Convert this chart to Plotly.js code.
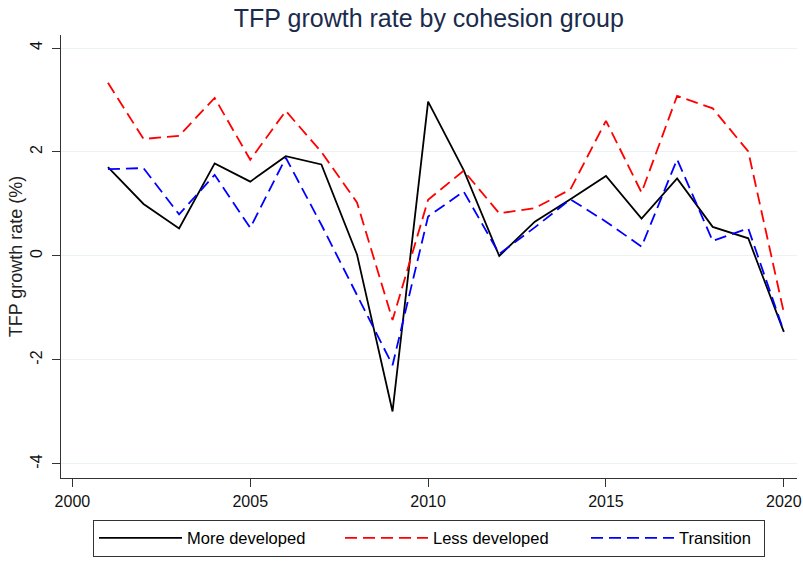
<!DOCTYPE html>
<html>
<head>
<meta charset="utf-8">
<script src="https://cdn.plot.ly/plotly-3.0.1.min.js"></script>
<style>html,body{margin:0;padding:0;background:#fff;}#chart{width:803px;height:561px;}</style>
</head>
<body>
<div id="chart"></div>
<script>
const years = [2001,2002,2003,2004,2005,2006,2007,2008,2009,2010,2011,2012,2013,2014,2015,2016,2017,2018,2019,2020];
const moreDeveloped = [1.71,1.00,0.53,1.78,1.43,1.92,1.76,0.03,-2.99,2.97,1.65,0.00,0.66,1.09,1.54,0.72,1.49,0.56,0.34,-1.46];
const lessDeveloped = [3.33,2.25,2.31,3.04,1.85,2.79,2.00,1.03,-1.23,1.08,1.64,0.82,0.92,1.28,2.60,1.22,3.08,2.84,2.01,-1.09];
const transition = [1.67,1.69,0.80,1.56,0.54,1.89,0.60,-0.76,-2.10,0.76,1.24,0.04,0.55,1.09,0.66,0.18,1.86,0.29,0.53,-1.45];
const seriesNames = ["More developed","Less developed","Transition"];
const xTicks = [2000,2005,2010,2015,2020];
const yTicks = [-4,-2,0,2,4];

const FONT = "Liberation Sans, Arial, Helvetica, sans-serif";
const traces = [
  {x: years, y: moreDeveloped, name: seriesNames[0], type: "scatter", mode: "lines", legendwidth: 148,
   line: {color: "#000000", width: 1.8}},
  {x: years, y: lessDeveloped, name: seriesNames[1], type: "scatter", mode: "lines", legendwidth: 148,
   line: {color: "#ff0000", width: 1.8, dash: "12px,6px"}},
  {x: years, y: transition, name: seriesNames[2], type: "scatter", mode: "lines", legendwidth: 80,
   line: {color: "#0000ff", width: 1.8, dash: "12px,6px"}}
];
const layout = {
  width: 803, height: 561,
  margin: {l: 61, r: 6, t: 35, b: 83, autoexpand: false},
  paper_bgcolor: "#ffffff", plot_bgcolor: "#ffffff",
  font: {family: FONT, color: "#000000", size: 16},
  title: {text: "TFP growth rate by cohesion group", font: {family: FONT, size: 25, color: "#1a2b4c"},
          x: 0.534, xanchor: "center", y: 0.967, yanchor: "middle"},
  xaxis: {range: [1999.68, 2020.37], tickvals: xTicks, ticktext: xTicks.map(String),
          ticks: "outside", ticklen: 8, tickcolor: "#333", showgrid: false, zeroline: false,
          showline: true, linecolor: "#333", linewidth: 1, tickfont: {size: 16, color: "#111"},
          ticklabelstandoff: 1},
  yaxis: {range: [-4.27, 4.25], tickvals: yTicks, ticktext: yTicks.map(String), tickangle: -90,
          ticks: "outside", ticklen: 8, tickcolor: "#333", showgrid: true, gridcolor: "#eaf2f3", gridwidth: 1,
          zeroline: false, showline: true, linecolor: "#333", linewidth: 1, tickfont: {size: 16, color: "#111"},
          ticklabelstandoff: 4,
          title: {text: "TFP growth rate (%)", font: {size: 18, color: "#222"}, standoff: 0}},
  showlegend: true,
  legend: {orientation: "h", x: 0.5, xanchor: "center", y: -0.094, yanchor: "top",
           bordercolor: "#333", borderwidth: 1, bgcolor: "#ffffff",
           font: {size: 16.5, color: "#000"}, itemwidth: 83,
           traceorder: "normal"}
};
Plotly.newPlot("chart", traces, layout, {displayModeBar: false, staticPlot: true});
</script>
</body>
</html>
